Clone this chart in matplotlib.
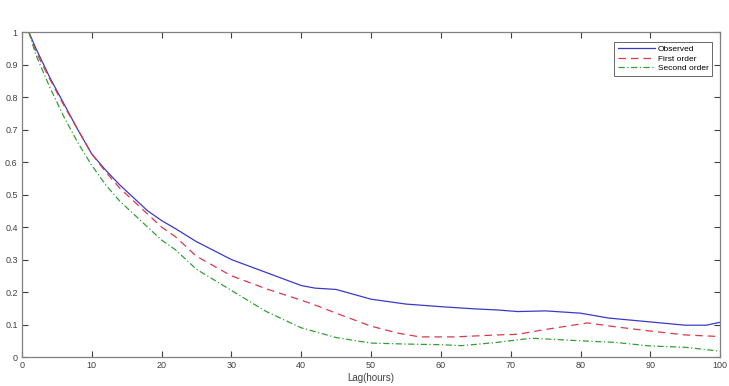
import matplotlib
matplotlib.use("Agg")
import matplotlib.pyplot as plt
import numpy as np

plt.rcParams['font.family'] = ['Liberation Sans', 'DejaVu Sans']

obs_x = [1, 2, 4, 6, 8, 10, 12, 14, 16, 18, 20, 22, 25, 30, 35, 40, 42, 45, 48, 50, 55, 60, 65, 68, 71, 75, 80, 84, 90, 95, 98, 100]
obs_y = [1.0, 0.95, 0.86, 0.78, 0.70, 0.625, 0.575, 0.53, 0.49, 0.45, 0.42, 0.395, 0.355, 0.30, 0.26, 0.22, 0.212, 0.208, 0.19, 0.178, 0.163, 0.155, 0.148, 0.145, 0.14, 0.142, 0.135, 0.12, 0.108, 0.098, 0.098, 0.107]

first_x = [1, 2, 4, 6, 8, 10, 12, 14, 16, 18, 20, 22, 25, 30, 35, 40, 42, 45, 50, 54, 57, 62, 68, 71, 75, 81, 85, 90, 95, 100]
first_y = [1.0, 0.94, 0.855, 0.775, 0.70, 0.625, 0.57, 0.52, 0.48, 0.44, 0.40, 0.37, 0.31, 0.25, 0.21, 0.175, 0.16, 0.135, 0.095, 0.073, 0.062, 0.062, 0.068, 0.07, 0.085, 0.105, 0.093, 0.08, 0.068, 0.063]

second_x = [1, 2, 4, 6, 8, 10, 12, 14, 16, 18, 20, 22, 25, 30, 35, 40, 45, 50, 55, 60, 63, 68, 73, 80, 85, 90, 95, 100]
second_y = [1.0, 0.93, 0.83, 0.74, 0.66, 0.59, 0.53, 0.48, 0.44, 0.40, 0.36, 0.33, 0.27, 0.205, 0.14, 0.09, 0.06, 0.043, 0.04, 0.038, 0.035, 0.045, 0.058, 0.05, 0.045, 0.034, 0.03, 0.018]

x_ticks = list(range(0, 101, 10))
y_ticks = [0, 0.1, 0.2, 0.3, 0.4, 0.5, 0.6, 0.7, 0.8, 0.9, 1]
y_ticklabels = ['0', '0.1', '0.2', '0.3', '0.4', '0.5', '0.6', '0.7', '0.8', '0.9', '1']

fig = plt.figure(figsize=(7.29, 3.86), dpi=100)
ax = fig.add_axes([0.030, 0.075, 0.958, 0.842])

ax.plot(obs_x, obs_y, color='#3a3ac8', lw=0.9, ls='-', label='Observed')
ax.plot(first_x, first_y, color='#d83a4a', lw=0.9, ls=(0, (6, 4)), label='First order')
ax.plot(second_x, second_y, color='#34a034', lw=0.9, ls=(0, (5, 2, 1, 2)), label='Second order')

ax.set_xlim(0, 100)
ax.set_ylim(0, 1)
ax.set_xticks(x_ticks)
ax.set_yticks(y_ticks)
ax.set_yticklabels(y_ticklabels)
ax.tick_params(direction='in', top=True, right=True, labelsize=6.5, colors='#404040',
               length=4, width=0.8, pad=3)
for s in ax.spines.values():
    s.set_color('#808080')
    s.set_linewidth(0.9)

ax.set_xlabel('Lag(hours)', fontsize=7, color='#404040', labelpad=2)
ax.set_ylabel('Autocorrelation', fontsize=7, color='#a0a0a0', labelpad=6)

leg = ax.legend(loc='upper right', fontsize=6, frameon=True, fancybox=False,
                edgecolor='#404040', handlelength=4.5, borderpad=0.4,
                labelspacing=0.2, handletextpad=0.3, bbox_to_anchor=(0.994, 0.982))
leg.get_frame().set_linewidth(0.7)

fig.savefig('out.png', dpi=100)
